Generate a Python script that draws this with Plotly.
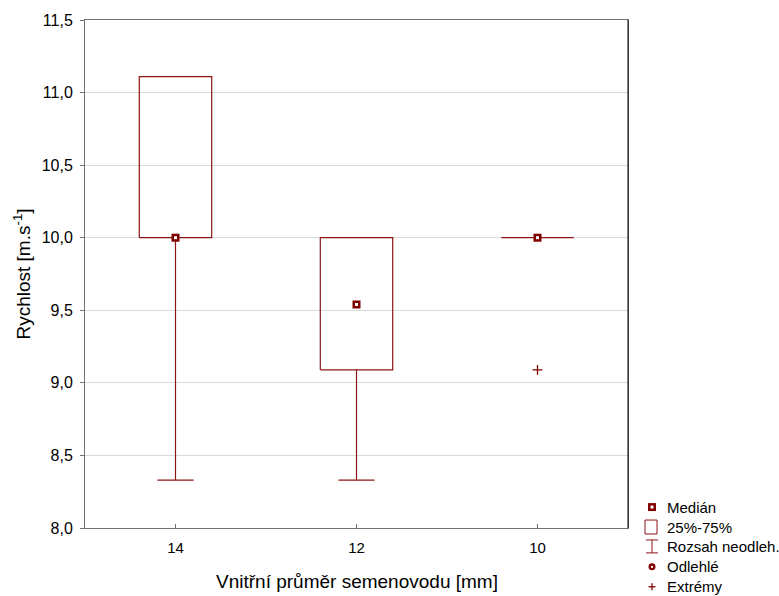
import plotly.graph_objects as go

# Box-plot summary per inner diameter of the seed tube
categories = ["14", "12", "10"]
q1 = [10.0, 9.09, 10.0]
median = [10.0, 9.54, 10.0]
q3 = [11.11, 10.0, 10.0]
whisker_low = [8.33, 8.33, 10.0]
whisker_high = [11.11, 10.0, 10.0]
extreme_cat = ["10"]
extreme_val = [9.09]

y_ticks = [8.0, 8.5, 9.0, 9.5, 10.0, 10.5, 11.0, 11.5]
y_ticktext = [f"{v:.1f}".replace(".", ",") for v in y_ticks]

legend_items = ["Medián", "25%-75%", "Rozsah neodleh.", "Odlehlé", "Extrémy"]
x_title = "Vnitřní průměr semenovodu [mm]"

RED = "#8B1414"
DARK = "#800000"
FONT = "Arial, Liberation Sans, sans-serif"

W, H = 779, 596
L, R, T, B = 85, 151, 18, 68
PW, PH = W - L - R, H - T - B

box_half = 0.2
cap_half = 0.1

fig = go.Figure()

for i, c in enumerate(categories):
    # box 25%-75%
    fig.add_trace(go.Scatter(
        x=[i - box_half, i + box_half, i + box_half, i - box_half, i - box_half],
        y=[q1[i], q1[i], q3[i], q3[i], q1[i]],
        mode="lines", line=dict(color=RED, width=1.2),
        hoverinfo="skip", showlegend=False))
    # whiskers with caps
    xs, ys = [], []
    if whisker_low[i] < q1[i]:
        xs += [i, i, None, i - cap_half, i + cap_half, None]
        ys += [q1[i], whisker_low[i], None, whisker_low[i], whisker_low[i], None]
    if whisker_high[i] > q3[i]:
        xs += [i, i, None, i - cap_half, i + cap_half, None]
        ys += [q3[i], whisker_high[i], None, whisker_high[i], whisker_high[i], None]
    if xs:
        fig.add_trace(go.Scatter(x=xs, y=ys, mode="lines",
                                 line=dict(color=RED, width=1.2),
                                 hoverinfo="skip", showlegend=False))

# medians: dark square with a small white centre
fig.add_trace(go.Scatter(
    x=list(range(len(categories))), y=median, mode="markers",
    marker=dict(symbol="square", size=8, color=DARK, line=dict(width=0)),
    hoverinfo="skip", showlegend=False))
fig.add_trace(go.Scatter(
    x=list(range(len(categories))), y=median, mode="markers",
    marker=dict(symbol="square", size=3, color="white", line=dict(width=0)),
    hoverinfo="skip", showlegend=False))

# extremes
fig.add_trace(go.Scatter(
    x=[categories.index(c) for c in extreme_cat], y=extreme_val, mode="markers",
    marker=dict(symbol="cross-thin", size=7, line=dict(color=DARK, width=1.3)),
    hoverinfo="skip", showlegend=False))


# legend drawn in pixel space, outside the plot area
def px(xp):
    return (xp - L) / PW


def py(yp):
    return (H - B - yp) / PH


shapes = []
annotations = []
sym_x = 652
text_x = 665
rows = [507, 527, 547, 567, 587]

# Medián symbol
shapes.append(dict(type="rect", xref="paper", yref="paper",
                   x0=px(sym_x - 4), x1=px(sym_x + 4), y0=py(rows[0] + 4), y1=py(rows[0] - 4),
                   fillcolor=DARK, line=dict(width=0)))
shapes.append(dict(type="rect", xref="paper", yref="paper",
                   x0=px(sym_x - 1.5), x1=px(sym_x + 1.5), y0=py(rows[0] + 1.5), y1=py(rows[0] - 1.5),
                   fillcolor="white", line=dict(width=0)))
# 25%-75% symbol
shapes.append(dict(type="rect", xref="paper", yref="paper",
                   x0=px(sym_x - 7), x1=px(sym_x + 5), y0=py(rows[1] + 7), y1=py(rows[1] - 7),
                   fillcolor="white", line=dict(color=RED, width=1)))
# whisker range symbol
for x0, y0, x1, y1 in [(sym_x, rows[2] - 7, sym_x, rows[2] + 6),
                       (sym_x - 6, rows[2] - 7, sym_x + 6, rows[2] - 7),
                       (sym_x - 6, rows[2] + 6, sym_x + 6, rows[2] + 6)]:
    shapes.append(dict(type="line", xref="paper", yref="paper",
                       x0=px(x0), x1=px(x1), y0=py(y0), y1=py(y1),
                       line=dict(color=RED, width=1)))
# Odlehlé symbol
shapes.append(dict(type="circle", xref="paper", yref="paper",
                   x0=px(sym_x - 3.5), x1=px(sym_x + 3.5), y0=py(rows[3] + 3.5), y1=py(rows[3] - 3.5),
                   fillcolor=DARK, line=dict(width=0)))
shapes.append(dict(type="circle", xref="paper", yref="paper",
                   x0=px(sym_x - 1.2), x1=px(sym_x + 1.2), y0=py(rows[3] + 1.2), y1=py(rows[3] - 1.2),
                   fillcolor="white", line=dict(width=0)))
# Extrémy symbol
for x0, y0, x1, y1 in [(sym_x - 3.5, rows[4], sym_x + 3.5, rows[4]),
                       (sym_x, rows[4] - 3.5, sym_x, rows[4] + 3.5)]:
    shapes.append(dict(type="line", xref="paper", yref="paper",
                       x0=px(x0), x1=px(x1), y0=py(y0), y1=py(y1),
                       line=dict(color=DARK, width=1.3)))

for label, yr in zip(legend_items, rows):
    annotations.append(dict(xref="paper", yref="paper", x=px(text_x), y=py(yr),
                            text=label, showarrow=False, xanchor="left", yanchor="middle",
                            font=dict(family=FONT, size=15, color="black")))

# x-axis title placed explicitly below the tick labels
annotations.append(dict(xref="paper", yref="paper", x=0.5, y=py(582),
                        text=x_title, showarrow=False, xanchor="center", yanchor="middle",
                        font=dict(family=FONT, size=19, color="black")))

# darker right edge of the frame
shapes.append(dict(type="line", xref="paper", yref="paper", x0=1, x1=1, y0=0, y1=1,
                   line=dict(color="black", width=1)))

fig.update_layout(
    width=W, height=H,
    margin=dict(l=L, r=R, t=T, b=B),
    paper_bgcolor="white", plot_bgcolor="white",
    font=dict(family=FONT, size=15, color="black"),
    shapes=shapes, annotations=annotations,
    xaxis=dict(
        range=[-0.5, len(categories) - 0.5],
        tickvals=list(range(len(categories))), ticktext=categories,
        showgrid=False, zeroline=False,
        showline=True, mirror=True, linecolor="#707070", linewidth=1,
        ticks="inside", ticklen=4, tickcolor="#707070",
        tickfont=dict(size=15), ticklabelstandoff=6,
        automargin=False,
    ),
    yaxis=dict(
        range=[8.0, 11.5],
        tickvals=y_ticks, ticktext=y_ticktext,
        showgrid=True, gridcolor="#DADADA", gridwidth=1, zeroline=False,
        showline=True, mirror=True, linecolor="#707070", linewidth=1,
        ticks="outside", ticklen=4, tickcolor="#707070",
        tickfont=dict(size=16), ticklabelstandoff=4,
        title=dict(text="Rychlost [m.s<sup>-1</sup>]", font=dict(size=19), standoff=6),
    ),
)

fig.write_html("out.html")
